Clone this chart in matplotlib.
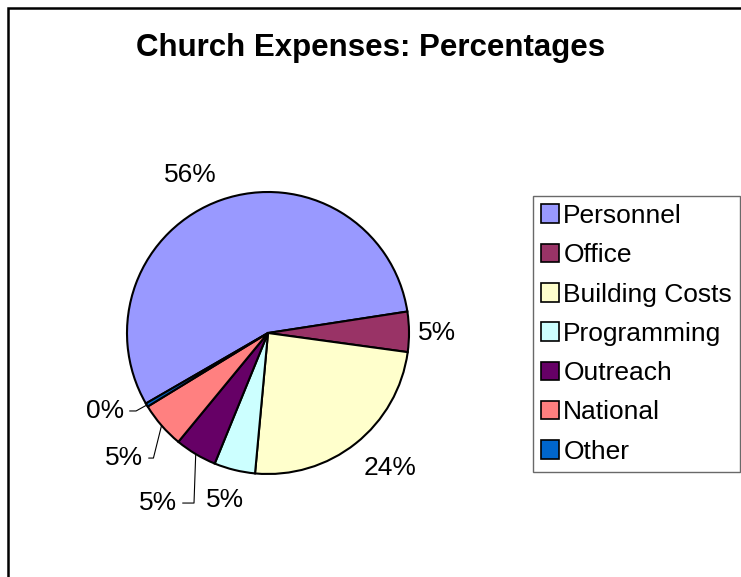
import matplotlib.pyplot as plt
import numpy as np
from matplotlib.patches import Rectangle, Patch

plt.rcParams['font.family'] = ['Liberation Sans', 'DejaVu Sans']

categories = ['Personnel', 'Office', 'Building Costs', 'Programming', 'Outreach', 'National', 'Other']
values = [55.9, 4.6, 24.3, 4.7, 4.8, 5.3, 0.4]
colors = ['#9999FF', '#993366', '#FFFFCC', '#CCFFFF', '#660066', '#FF8080', '#0066CC']

# label text positions (data coords of the unit pie) and leader-line angle (None = no leader)
label_pos = [(-0.553, 1.12), (1.20, 0.0), (0.865, -0.957), (-0.305, -1.184),
             (-0.78, -1.206), (-1.021, -0.887), (-1.156, -0.553)]
leader_angle = [None, None, None, None, 88, 76, 29]

W, H = 741, 577
fig = plt.figure(figsize=(W / 100, H / 100), dpi=100)

cx, cy, r = 268, 333, 141
ax = fig.add_axes([(cx - r) / W, (H - cy - r) / H, 2 * r / W, 2 * r / H])
wedges, _ = ax.pie(values, colors=colors, startangle=210, counterclock=False,
                   radius=1, wedgeprops=dict(edgecolor='black', linewidth=1.5))
ax.set_xlim(-1, 1)
ax.set_ylim(-1, 1)
ax.set_aspect('equal')
ax.axis('off')

total = sum(values)
for w, v, pos, ang in zip(wedges, values, label_pos, leader_angle):
    txt = '%d%%' % round(v / total * 100)
    if ang is None:
        ax.text(pos[0], pos[1], txt, ha='center', va='center', fontsize=19, clip_on=False)
    else:
        mid = np.deg2rad((w.theta1 + w.theta2) / 2)
        ax.annotate(txt, xy=(np.cos(mid), np.sin(mid)), xytext=pos,
                    ha='center', va='center', fontsize=19, annotation_clip=False,
                    arrowprops=dict(arrowstyle='-', color='black', lw=0.8,
                                    shrinkA=2, shrinkB=0,
                                    connectionstyle='angle,angleA=0,angleB=%d,rad=0' % ang))

fig.text(0.5, 1 - 48 / H, 'Church Expenses: Percentages', ha='center', va='center',
         fontsize=22.5, fontweight='bold')

handles = [Patch(facecolor=c, edgecolor='black', linewidth=1.2) for c in colors]
leg = fig.legend(handles, categories, loc='upper left', bbox_to_anchor=(533 / W, 1 - 196 / H),
                 fontsize=19, frameon=True, fancybox=False, handlelength=0.7, handleheight=0.7,
                 handletextpad=0.15, labelspacing=0.58, borderpad=0.3, borderaxespad=0)
leg.get_frame().set_edgecolor('#444444')
leg.get_frame().set_linewidth(1.0)

# chart border (left and top visible)
fig.add_artist(Rectangle((8 / W, -0.1), 1.2, 1.1 - 8 / H, transform=fig.transFigure,
                         fill=False, edgecolor='black', linewidth=1.8))

fig.savefig('out.png', dpi=100)
